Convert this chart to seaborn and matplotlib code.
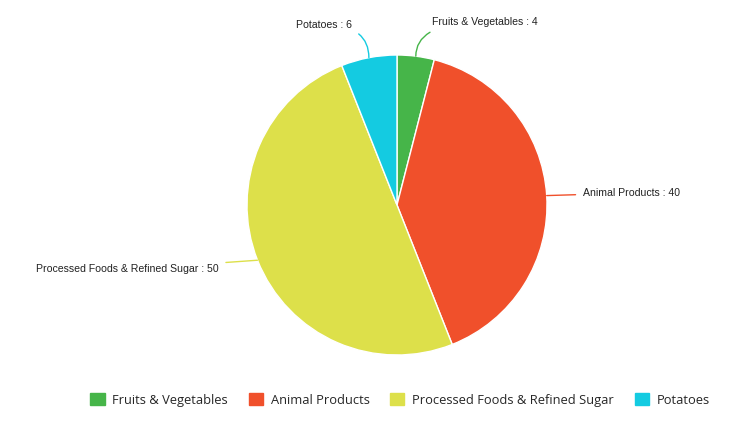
import numpy as np
import seaborn as sns
import matplotlib.pyplot as plt
import matplotlib.patches as mpatches

categories = ["Fruits & Vegetables", "Animal Products",
              "Processed Foods & Refined Sugar", "Potatoes"]
values = [4, 40, 50, 6]
colors = ["#46b549", "#f0502b", "#dde04a", "#14cbe1"]

sns.set_theme(style="white")
plt.rcParams['font.family'] = ['Liberation Sans', 'DejaVu Sans']

W, H = 750, 422
cx, cy, r = 397, 205, 150  # pixel layout of the pie

fig = plt.figure(figsize=(W / 100, H / 100), dpi=100)
ax = fig.add_axes([0, 0, 1, 1])

wedges, _ = ax.pie(values, colors=colors, startangle=90, counterclock=False,
                   radius=1, wedgeprops=dict(edgecolor='white', linewidth=1))

ax.set_xlim(-cx / r, (W - cx) / r)
ax.set_ylim(-(H - cy) / r, cy / r)
ax.set_aspect('equal')
ax.axis('off')

# label placement (offsets in pie units) + connector style
label_pos = {
    "Fruits & Vegetables": (0.235, 1.22, 'left', "angle3,angleA=0,angleB=90"),
    "Animal Products": (1.24, 0.08, 'left', "arc3,rad=0"),
    "Processed Foods & Refined Sugar": (-1.19, -0.43, 'right', "arc3,rad=0"),
    "Potatoes": (-0.30, 1.20, 'right', "angle3,angleA=0,angleB=90"),
}
total = sum(values)
start = 90.0
for cat, val, col in zip(categories, values, colors):
    sweep = 360.0 * val / total
    mid = np.deg2rad(start - sweep / 2)
    start -= sweep
    px, py = np.cos(mid), np.sin(mid)
    tx, ty, ha, conn = label_pos[cat]
    ax.annotate(f"{cat} : {val}", xy=(px, py), xytext=(tx, ty),
                ha=ha, va='center', fontsize=7.6, color='#222222',
                arrowprops=dict(arrowstyle='-', color=col, lw=1,
                                shrinkA=3, shrinkB=0,
                                connectionstyle=conn))

handles = [mpatches.Patch(color=c, label=l) for c, l in zip(colors, categories)]
fig.legend(handles=handles, loc='center', bbox_to_anchor=(400 / W, 1 - 400 / H),
           ncol=4, frameon=False, handlelength=1.1, handleheight=1.0,
           handletextpad=0.6, columnspacing=1.6,
           prop={'family': ['Open Sans', 'DejaVu Sans'], 'size': 9.3})

plt.savefig("out.png", dpi=100)
